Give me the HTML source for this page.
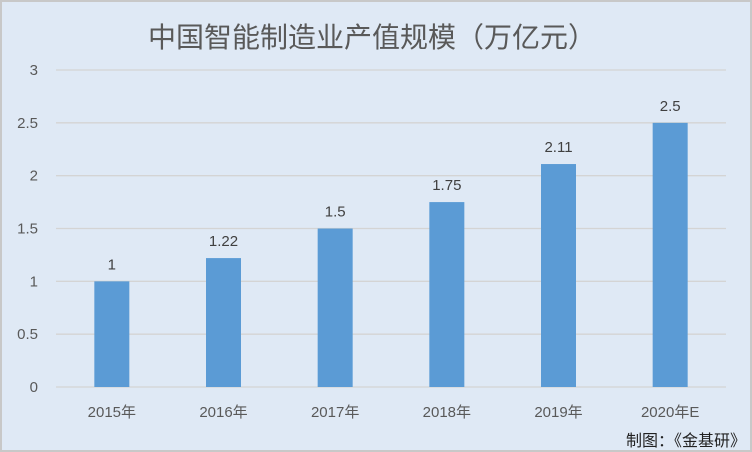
<!DOCTYPE html>
<html><head><meta charset="utf-8">
<style>
html,body{margin:0;padding:0;}
body{width:752px;height:452px;overflow:hidden;background:#dfe9f5;font-family:"Liberation Sans","Noto Sans CJK SC",sans-serif;}
svg{display:block;}
</style></head>
<body>
<svg id="chart" width="752" height="452" viewBox="0 0 752 452" xmlns="http://www.w3.org/2000/svg">
<rect x="1" y="1" width="750" height="450" fill="#dfe9f5" stroke="#c8c8c8" stroke-width="2"/>
<text x="372" y="47" text-anchor="middle" font-size="28" fill="#595959" font-family="Liberation Sans, Noto Sans CJK SC, sans-serif">中国智能制造业产值规模（万亿元）</text>
<g id="grid"></g>
<g id="bars"></g>
<g id="labels"></g>
<text x="746" y="446" text-anchor="end" font-size="16" fill="#222" font-family="Liberation Sans, Noto Sans CJK SC, sans-serif">制图：《金基研》</text>
</svg>
<script>
const categories = ["2015年","2016年","2017年","2018年","2019年","2020年E"];
const values = [1, 1.22, 1.5, 1.75, 2.11, 2.5];
const valueLabels = ["1","1.22","1.5","1.75","2.11","2.5"];
const yTicks = [0, 0.5, 1, 1.5, 2, 2.5, 3];
const yTickLabels = ["0","0.5","1","1.5","2","2.5","3"];

const NS = "http://www.w3.org/2000/svg";
const plotL = 56, plotR = 726, plotTop = 70, plotBot = 387, yMax = 3;
const y = v => plotBot - (v / yMax) * (plotBot - plotTop);
const band = (plotR - plotL) / categories.length;
const x = i => plotL + band * (i + 0.5);
const barW = 35;
function mk(tag, attrs, parent){
  const e = document.createElementNS(NS, tag);
  for (const k in attrs) e.setAttribute(k, attrs[k]);
  parent.appendChild(e);
  return e;
}
const grid = document.getElementById("grid");
const bars = document.getElementById("bars");
const labels = document.getElementById("labels");
yTicks.forEach((t, i) => {
  const l = mk("line", {x1: plotL, x2: plotR, y1: y(t), y2: y(t), stroke: "#d4d4d4", "stroke-width": 1.3}, grid);
  
  
  const tx = mk("text", {x: 38, y: y(t) + 5, "text-anchor": "end", "font-size": 15, fill: "#595959"}, grid);
  tx.textContent = yTickLabels[i];
  
  
});
categories.forEach((c, i) => {
  const r = mk("rect", {x: x(i) - barW / 2, y: y(values[i]), width: barW, height: plotBot - y(values[i]), fill: "#5b9bd5"}, bars);
  
  
  const vl = mk("text", {x: x(i), y: y(values[i]) - 12, "text-anchor": "middle", "font-size": 15, fill: "#404040"}, labels);
  vl.textContent = valueLabels[i];
  
  
  const cl = mk("text", {x: x(i), y: 417, "text-anchor": "middle", "font-size": 15, fill: "#595959"}, labels);
  cl.textContent = c;
  
  
});
</script>
</body></html>
